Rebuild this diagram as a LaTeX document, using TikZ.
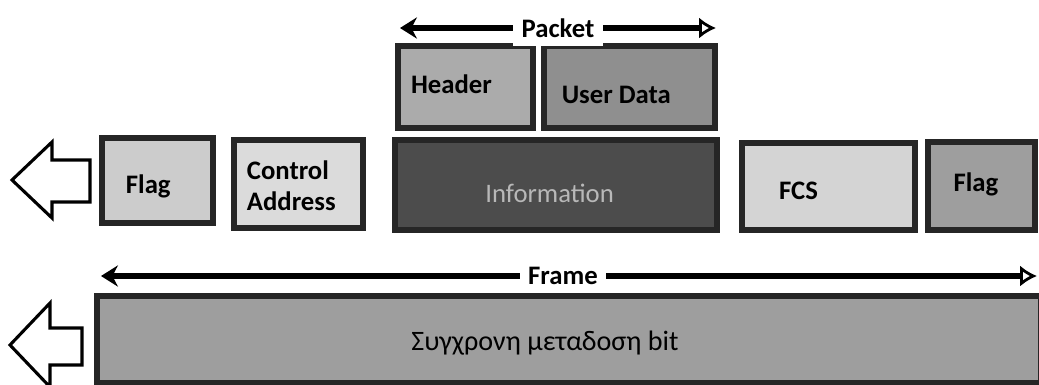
\documentclass[tikz,border=0pt]{standalone}
\usepackage{fontspec}
\setmainfont{Carlito}
\usetikzlibrary{arrows.meta}

\begin{document}
\begin{tikzpicture}[x=0.025cm, y=-0.025cm,
  box/.style={rectangle, draw=black!85, line width=4.5pt, inner sep=0pt},
  tag/.style={font=\fontsize{19}{22}\selectfont\bfseries, inner sep=0pt, align=left},
  span/.style={line width=4pt, {Stealth[length=12pt,width=15pt]}-{Latex[open,length=12pt,width=15pt,line width=2pt]}},
  hollow/.style={draw=black, line width=2.2pt, line join=miter, fill=white}]

\useasboundingbox (0,0) rectangle (1039,384);

% Nodes
\node (header) [box, minimum width=3.375cm, minimum height=2.05cm, fill=black!33,
  label={[tag, xshift=-0.35cm, yshift=0.06cm]center:Header}] at (465.5,87) {};
\node (userdata) [box, minimum width=4.275cm, minimum height=2.05cm, fill=black!44,
  label={[tag, xshift=-0.33cm, yshift=-0.19cm]center:User Data}] at (629.5,87) {};
\node (flagA) [box, minimum width=2.775cm, minimum height=2.125cm, fill=black!20,
  label={[tag, xshift=-0.23cm, yshift=-0.15cm]center:Flag}] at (157.5,180.5) {};
\node (ctrl) [box, minimum width=3.225cm, minimum height=2.2cm, fill=black!14,
  label={[tag, xshift=-0.18cm, yshift=-0.05cm]center:Control\\Address}] at (298.5,184) {};
\node (info) [box, minimum width=8.05cm, minimum height=2.25cm, fill=black!70,
  label={[tag, font=\fontsize{19}{22}\selectfont, text=black!28, xshift=-0.16cm, yshift=-0.2cm]center:Information}] at (556,185) {};
\node (fcs) [box, minimum width=4.325cm, minimum height=2.175cm, fill=black!17,
  label={[tag, xshift=-0.75cm, yshift=-0.11cm]center:FCS}] at (828.5,186.5) {};
\node (flagB) [box, minimum width=2.675cm, minimum height=2.2cm, fill=black!38,
  label={[tag, xshift=-0.14cm, yshift=0.05cm]center:Flag}] at (981.5,186) {};
\node (bits) [box, minimum width=23.6cm, minimum height=2.175cm, fill=black!38,
  label={[tag, font=\fontsize{20}{24}\selectfont, xshift=-0.6cm, yshift=-0.1cm]center:Συγχρονη μεταδοση bit}] at (569,339.5) {};

% End points of the spans
\coordinate (pktL) at (400,28);
\coordinate (pktR) at (716,28);
\coordinate (frmL) at (101,276);
\coordinate (frmR) at (1037,276);

% Arrows
\draw [span] (pktL) -- node[midway, fill=white, font=\fontsize{19}{22}\selectfont\bfseries, inner sep=6pt] {Packet} (pktR);
\draw [span] (frmL) -- node[midway, fill=white, font=\fontsize{19}{22}\selectfont\bfseries, inner sep=6pt, xshift=-0.15cm] {Frame} (frmR);

% Direction of sending
\draw [hollow] (12,180) -- (52,142) -- (52,160) -- (90,160) -- (90,202) -- (52,202) -- (52,218) -- cycle;
\draw [hollow] (10,345) -- (50,303) -- (50,328) -- (82,328) -- (82,365) -- (50,365) -- (50,387) -- cycle;

\end{tikzpicture}
\end{document}
